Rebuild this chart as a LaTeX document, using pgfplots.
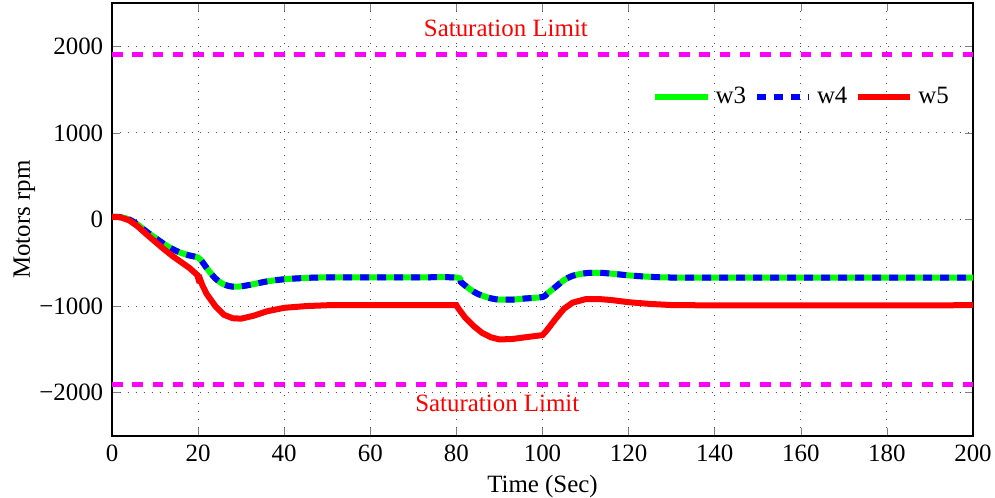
\documentclass[border=0pt]{standalone}
\usepackage{fontspec}
\setmainfont{Liberation Serif}
\usepackage{pgfplots}
\pgfplotsset{compat=1.18}
\definecolor{mgreen}{RGB}{0,255,0}
\definecolor{mblue}{RGB}{0,0,255}
\definecolor{mred}{RGB}{255,0,0}
\definecolor{mmag}{RGB}{255,0,255}
\begin{document}
\begin{tikzpicture}
% fixed frame so the axis sits where it does in the reference
\useasboundingbox (-44.8bp,-24.8bp) rectangle (353.2bp,174.4bp);
\begin{axis}[
  at={(0,0)}, anchor=south west,
  scale only axis,
  width=344.4bp, height=173.2bp,
  xmin=0, xmax=200, ymin=-2500, ymax=2500,
  xtick={0,20,...,200},
  ytick={-2000,-1000,0,1000,2000},
  yticklabels={−2000,−1000,0,1000,2000},
  /pgf/number format/assume math mode=true,
  tick align=inside, tick pos=both,
  major tick length=3.2bp,
  grid=major,
  grid style={dash pattern=on 0.5bp off 2.7bp, black!70, line width=0.4pt},
  axis line style={line width=0.6pt},
  xlabel={Time (Sec)}, ylabel={Motors rpm},
  xlabel style={yshift=1.2bp},
  ylabel style={yshift=-5.2bp},
  tick label style={font=\fontsize{10}{12}\selectfont},
  label style={font=\fontsize{10}{12}\selectfont},
  legend style={at={(0.987,0.783)}, anchor=east, draw=none, fill=none,
    font=\fontsize{10}{12}\selectfont, legend columns=3,
    /tikz/every even column/.append style={column sep=1bp}},
  legend image code/.code={\draw[#1] (0bp,0bp) -- (21bp,0bp);},
]
\addplot[mmag, line width=2bp, dash pattern=on 4.2bp off 3.9bp, forget plot] coordinates {(0,1907) (200,1907)};
\addplot[mmag, line width=2bp, dash pattern=on 4.2bp off 3.9bp, forget plot] coordinates {(0,-1907) (200,-1907)};
\addplot[mgreen, line width=2.4bp, smooth] coordinates {
(0,30) (2,28) (4,0) (6,-60) (8,-140) (10,-210) (12,-280) (14,-340) (16,-385) (18,-415) (20,-440)
(21,-490) (22,-560) (24,-680) (26,-750) (28,-775) (30,-772) (33,-745) (36,-715) (40,-690) (45,-675)
(50,-668) (60,-668) (70,-668) (80,-670) (81,-720) (83,-800) (85,-860) (88,-910) (90,-925) (93,-925)
(96,-912) (100,-895) (101,-860) (103,-780) (105,-700) (107,-650) (110,-620) (113,-615) (116,-625)
(120,-645) (125,-662) (130,-670) (140,-670) (200,-670)};
\addlegendentry{w3}
\addplot[mblue, line width=2.4bp, smooth, dash pattern=on 3.6bp off 3.2bp] coordinates {
(0,30) (2,28) (4,0) (6,-60) (8,-140) (10,-210) (12,-280) (14,-340) (16,-385) (18,-415) (20,-440)
(21,-490) (22,-560) (24,-680) (26,-750) (28,-775) (30,-772) (33,-745) (36,-715) (40,-690) (45,-675)
(50,-668) (60,-668) (70,-668) (80,-670) (81,-720) (83,-800) (85,-860) (88,-910) (90,-925) (93,-925)
(96,-912) (100,-895) (101,-860) (103,-780) (105,-700) (107,-650) (110,-620) (113,-615) (116,-625)
(120,-645) (125,-662) (130,-670) (140,-670) (200,-670)};
\addlegendentry{w4}
\addplot[mred, line width=2.4bp] coordinates {
(0,30) (2,25) (4,-10) (6,-80) (8,-170) (10,-255) (12,-340) (14,-420) (16,-490) (18,-560) (19.8,-640)
(20.1,-690) (20.4,-680) (21,-760) (22,-860) (24,-1000) (26,-1100) (28,-1140) (30,-1145) (33,-1110)
(36,-1060) (40,-1020) (45,-1000) (50,-990) (80,-990) (80.5,-1030) (82,-1130) (84,-1230) (86,-1310)
(88,-1360) (90,-1385) (93,-1380) (96,-1360) (100,-1335) (101,-1280) (103,-1150) (105,-1030)
(107,-960) (110,-920) (113,-918) (116,-930) (120,-955) (125,-975) (130,-988) (140,-992) (200,-990)};
\addlegendentry{w5}
\node[mred, font=\fontsize{10}{12}\selectfont] at (axis cs:91.5,2208) {Saturation Limit};
\node[mred, font=\fontsize{10}{12}\selectfont] at (axis cs:89.5,-2127) {Saturation Limit};
\end{axis}
\end{tikzpicture}
\end{document}
